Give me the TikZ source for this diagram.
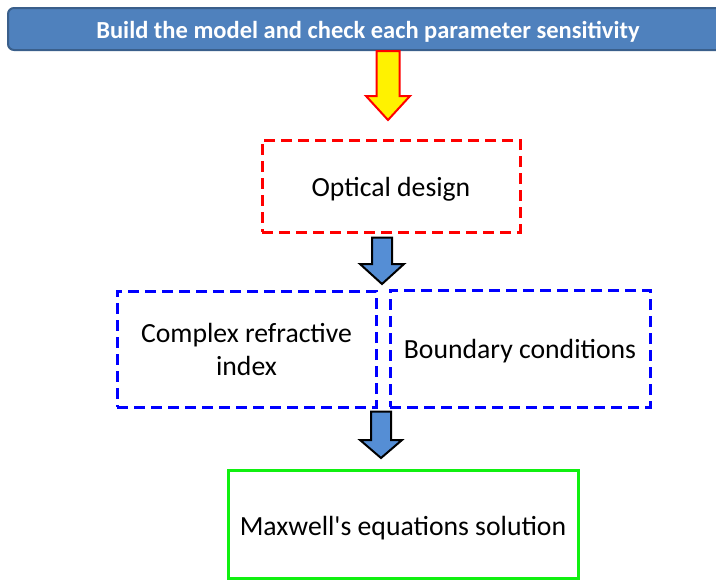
\documentclass[tikz,border=0pt]{standalone}
\usepackage{fontspec}
\newfontfamily\carl{Carlito}
\usetikzlibrary{calc}
\definecolor{barfill}{HTML}{4F81BD}
\definecolor{bardraw}{HTML}{3A5F8B}
\definecolor{arrblue}{HTML}{558ED5}
\definecolor{boxred}{HTML}{FF0000}
\definecolor{boxblue}{HTML}{0000FF}
\definecolor{boxgreen}{HTML}{10F010}
\newcommand\lowr[2]{\raisebox{-#1}[\height][\depth]{#2}}
\begin{document}
\begin{tikzpicture}[x=1pt,y=-1pt,
  bar/.style={draw=bardraw,line width=2pt,fill=barfill,rounded corners=6pt,
    text=white,font=\carl\bfseries\fontsize{24.5}{28}\selectfont,inner sep=0pt},
  dbox/.style={line width=3pt,dash pattern=on 11pt off 6pt,inner sep=0pt,
    font=\carl\fontsize{27.7}{33}\selectfont,align=center},
  gbox/.style={draw=boxgreen,line width=3pt,inner sep=0pt,
    font=\carl\fontsize{27.7}{33}\selectfont,align=center},
  yarr/.style={fill=yellow,draw=boxred,line width=2pt,line join=miter},
  barr/.style={fill=arrblue,draw=black,line width=2pt,line join=miter}]
\useasboundingbox (0,0) rectangle (716,581);
\begin{scope}
\clip (0,0) rectangle (716,581);
\node[bar,minimum width=720pt,minimum height=42pt] (top) at (368,29) {\lowr{2.5pt}{Build the model and check each parameter sensitivity}};
\end{scope}
\node[dbox,draw=boxred,minimum width=258pt,minimum height=92pt] (opt) at (391,186) {\lowr{3pt}{Optical design}};
\node[dbox,draw=boxblue,minimum width=259pt,minimum height=116pt] (cri) at (246.5,349) {Complex refractive\\index};
\node[dbox,draw=boxblue,minimum width=260pt,minimum height=117pt] (bc) at (520,348.5) {\lowr{3pt}{Boundary conditions}};
\node[gbox,minimum width=350pt,minimum height=108pt] (mx) at (403,524) {\lowr{4pt}{Maxwell's equations solution}};
% arrow 1 (yellow)
\coordinate (a1s) at ($(top.south -| 388,0)$);
\coordinate (a1e) at (388,120);
\draw[yarr] ($(a1s)+(-11.5,0)$) -- ($(a1s)+(11.5,0)$) -- ($(a1e)+(11.5,-24)$) -- ($(a1e)+(22,-24)$) -- (a1e)
  -- ($(a1e)+(-22,-24)$) -- ($(a1e)+(-11.5,-24)$) -- cycle;
% arrow 2 (blue)
\coordinate (a2s) at ($(opt.south -| 382,0)+(0,4)$);
\coordinate (a2e) at (382,284);
\draw[barr] ($(a2s)+(-10,0)$) -- ($(a2s)+(10,0)$) -- ($(a2e)+(10,-20)$) -- ($(a2e)+(22,-20)$) -- (a2e)
  -- ($(a2e)+(-22,-20)$) -- ($(a2e)+(-10,-20)$) -- cycle;
% arrow 3 (blue)
\coordinate (a3s) at ($(cri.south -| 381,0)+(0,3)$);
\coordinate (a3e) at (381,458);
\draw[barr] ($(a3s)+(-10,0)$) -- ($(a3s)+(10,0)$) -- ($(a3e)+(10,-18)$) -- ($(a3e)+(21,-18)$) -- (a3e)
  -- ($(a3e)+(-21,-18)$) -- ($(a3e)+(-10,-18)$) -- cycle;
\end{tikzpicture}
\end{document}
